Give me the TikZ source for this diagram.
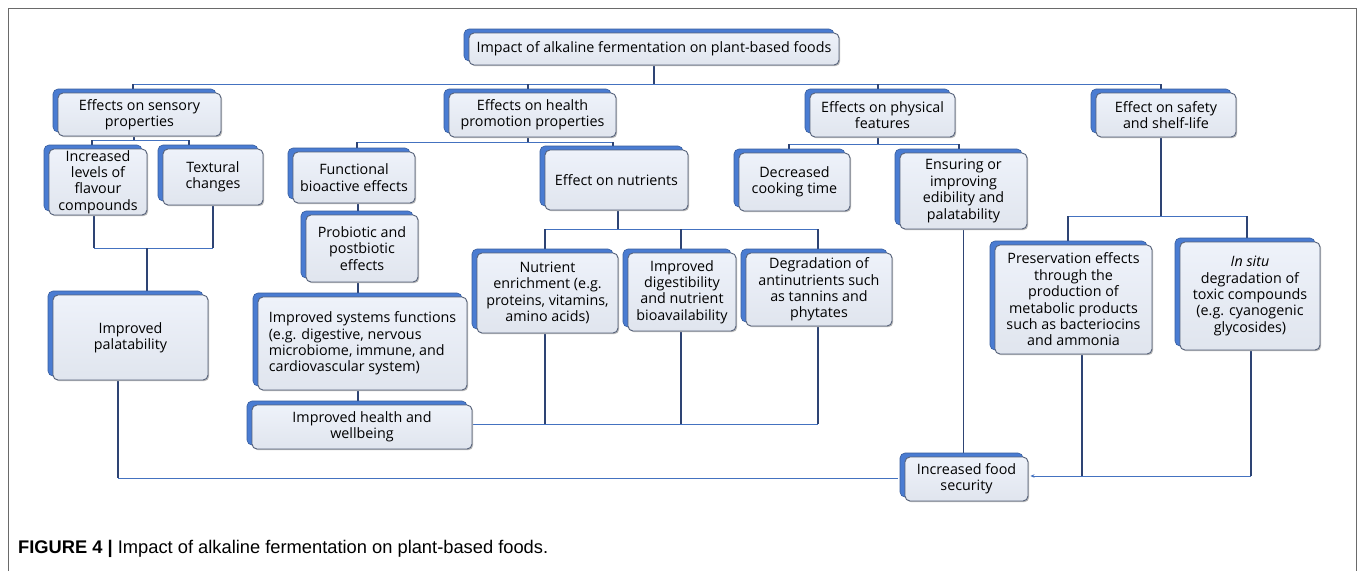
\documentclass[tikz,border=0pt]{standalone}
\usepackage{fontspec}
\setmainfont{Open Sans}
\newfontfamily\capfont{Liberation Sans}
\usetikzlibrary{shadows,calc,backgrounds,arrows.meta}
\definecolor{backblue}{HTML}{4A7CD2}
\definecolor{edgecol}{HTML}{56627A}
\definecolor{filltop}{HTML}{EEF2FA}
\definecolor{fillbot}{HTML}{E0E5EE}
\definecolor{hcol}{HTML}{4472C0}
\definecolor{vcol}{HTML}{2E4474}
\definecolor{framecol}{HTML}{6A6A6A}
\begin{document}
\begin{tikzpicture}[x=1pt,y=-1pt,
  box/.style={draw=edgecol, line width=0.9pt, rounded corners=5pt,
    top color=filltop, bottom color=fillbot, align=center, inner sep=1pt,
    font=\fontsize{14.3}{16.4}\selectfont,
    general shadow={fill=backblue, draw=backblue!75!black, line width=0.6pt, shadow xshift=-5pt, shadow yshift=4pt},
    general shadow={fill=gray!55, draw=none, shadow xshift=1.2pt, shadow yshift=-1.2pt}},
  hl/.style={draw=hcol, line width=1pt},
  vl/.style={draw=vcol, line width=1.1pt}]
\useasboundingbox (0,0) rectangle (1358,571);

% level 0
\node[box, minimum width=370pt, minimum height=32pt] (top) at (654,49) {Impact of alkaline fermentation on plant-based foods};
% level 1
\node[box, minimum width=163pt, minimum height=43pt] (sens) at (139.5,114.5) {Effects on sensory\\properties};
\node[box, minimum width=167pt, minimum height=44pt] (health) at (532.5,115) {Effects on health\\promotion properties};
\node[box, minimum width=145pt, minimum height=44pt] (phys) at (882.5,115) {Effects on physical\\features};
\node[box, minimum width=140pt, minimum height=44pt] (safety) at (1166,115) {Effect on safety\\and shelf-life};
% sensory branch
\node[box, minimum width=98pt, minimum height=66pt] (flav) at (98,182) {Increased\\levels of\\flavour\\compounds};
\node[box, minimum width=100pt, minimum height=56pt] (text) at (213,177) {Textural\\changes};
\node[box, minimum width=155pt, minimum height=85pt] (pal) at (130.5,337.5) {Improved\\palatability};
% health branch
\node[box, minimum width=122pt, minimum height=51pt] (func) at (354,177.5) {Functional\\bioactive effects};
\node[box, minimum width=143pt, minimum height=60pt] (nutr) at (616.5,180) {Effect on nutrients};
\node[box, minimum width=112pt, minimum height=67pt] (prob) at (362,248.5) {Probiotic and\\postbiotic\\effects};
\node[box, minimum width=209pt, minimum height=93pt, align=left] (sys) at (362.5,343.5) {Improved systems functions\\(e.g. digestive, nervous\\microbiome, immune, and\\cardiovascular system)};
\node[box, minimum width=220pt, minimum height=44pt] (hw) at (362,427) {Improved health and\\wellbeing};
\node[box, minimum width=141pt, minimum height=80pt] (enr) at (547.5,293) {Nutrient\\enrichment (e.g.\\proteins, vitamins,\\amino acids)};
\node[box, minimum width=108pt, minimum height=78pt] (dig) at (682,292) {Improved\\digestibility\\and nutrient\\bioavailability};
\node[box, minimum width=146pt, minimum height=73pt] (deg) at (819,289.5) {Degradation of\\antinutrients such\\as tannins and\\phytates};
% physical branch
\node[box, minimum width=111pt, minimum height=58pt] (cook) at (794.5,182) {Decreased\\cooking time};
\node[box, minimum width=127pt, minimum height=76pt] (ens) at (963.5,191) {Ensuring or\\improving\\edibility and\\palatability};
% safety branch
\node[box, minimum width=157pt, minimum height=109pt] (pres) at (1073.5,299.5) {Preservation effects\\through the\\production of\\metabolic products\\such as bacteriocins\\and ammonia};
\node[box, minimum width=140pt, minimum height=108pt] (insitu) at (1250,296) {\textit{In situ}\\degradation of\\toxic compounds\\(e.g. cyanogenic\\glycosides)};
% result
\node[box, minimum width=123pt, minimum height=44pt] (food) at (966.5,479) {Increased food\\security};

% caption
\node[anchor=base west, inner sep=0pt, font=\capfont\fontsize{18.3}{20}\selectfont] (cap) at (18,553) {\textbf{FIGURE 4 |} Impact of alkaline fermentation on plant-based foods.};

\begin{pgfonlayer}{background}
\fill[white] (0,0) rectangle (1358,571);
\draw[framecol, line width=1pt] (8,571) -- (8,8) -- (1356,8) -- (1356,571);
% top bus
\coordinate (b1) at (654,84);
\coordinate (xs) at (133,0);
\coordinate (xh) at (528,0);
\coordinate (xy) at (878,0);
\coordinate (xf) at (1161,0);
\draw[vl] (top.south) -- (b1);
\draw[hl] (b1 -| xs) -- (b1 -| xf);
\draw[vl] (sens.north -| xs) -- (b1 -| xs);
\draw[vl] (health.north -| xh) -- (b1 -| xh);
\draw[vl] (phys.north -| xy) -- (b1 -| xy);
\draw[vl] (safety.north -| xf) -- (b1 -| xf);
% sensory
\coordinate (b2) at (134,140);
\coordinate (xa) at (92,0);
\coordinate (xb) at (189,0);
\draw[vl] (sens.south -| b2) -- (b2);
\draw[hl] (b2 -| xa) -- (b2 -| xb);
\draw[vl] (flav.north -| xa) -- (b2 -| xa);
\draw[vl] (text.north -| xb) -- (b2 -| xb);
\coordinate (b3) at (147,248);
\coordinate (xa2) at (94,0);
\draw[vl] (flav.south -| xa2) -- (b3 -| xa2);
\draw[vl] (text.south) -- (b3 -| text.south);
\draw[hl] (b3 -| xa2) -- (b3 -| text.south);
\draw[vl] (b3) -- (b3 |- pal.north);
\coordinate (xl) at (118,0);
\coordinate (f1) at ($(food.west)+(-7,-1)$);
\draw[vl] (pal.south -| xl) -- (f1 -| xl);
\draw[hl] (f1 -| xl) -- (f1);
% health
\coordinate (b4) at (528,142);
\coordinate (xu) at (357,0);
\coordinate (xv) at (613,0);
\draw[vl] (health.south -| b4) -- (b4);
\draw[hl] (b4 -| xu) -- (b4 -| xv);
\draw[vl] (func.north -| xu) -- (b4 -| xu);
\draw[vl] (nutr.north -| xv) -- (b4 -| xv);
\coordinate (x1) at (358,0);
\draw[vl] (func.south -| x1) -- (prob.north -| x1);
\draw[vl] (prob.south -| x1) -- (sys.north -| x1);
\draw[vl] (sys.south -| x1) -- (hw.north -| x1);
% nutrients
\coordinate (b5) at (618,229);
\coordinate (xe) at (545,0);
\coordinate (xd) at (681,0);
\coordinate (xg) at (818,0);
\draw[vl] (nutr.south -| b5) -- (b5);
\draw[hl] (b5 -| xe) -- (b5 -| xg);
\draw[vl] (enr.north -| xe) -- (b5 -| xe);
\draw[vl] (dig.north -| xd) -- (b5 -| xd);
\draw[vl] (deg.north -| xg) -- (b5 -| xg);
\coordinate (h1) at ($(hw.east)+(0,-3)$);
\draw[hl] (h1) -- (h1 -| xg);
\draw[vl] (enr.south -| xe) -- (h1 -| xe);
\draw[vl] (dig.south -| xd) -- (h1 -| xd);
\draw[vl] (deg.south -| xg) -- (h1 -| xg);
% physical
\coordinate (b6) at (878,144);
\coordinate (xc) at (789,0);
\coordinate (xn) at (959,0);
\draw[vl] (phys.south -| b6) -- (b6);
\draw[hl] (b6 -| xc) -- (b6 -| xn);
\draw[vl] (cook.north -| xc) -- (b6 -| xc);
\draw[vl] (ens.north -| xn) -- (b6 -| xn);
\draw[vl] (ens.south) -- (ens.south |- food.north);
% safety
\coordinate (b7) at (1161,216);
\coordinate (xp) at (1068,0);
\coordinate (xi) at (1247,0);
\draw[vl] (safety.south -| b7) -- (b7);
\draw[hl] (b7 -| xp) -- (b7 -| xi);
\draw[vl] (pres.north -| xp) -- (b7 -| xp);
\draw[vl] (insitu.north -| xi) -- (b7 -| xi);
\coordinate (xq) at (1082,0);
\coordinate (xr) at (1251,0);
\coordinate (f2) at ($(food.east)+(2,-3)$);
\draw[vl] (insitu.south -| xr) -- (f2 -| xr);
\draw[hl, -{Stealth[length=4pt,width=3.5pt]}] (f2 -| xr) -- (f2);
\draw[vl] (pres.south -| xq) -- (f2 -| xq);
\end{pgfonlayer}
\end{tikzpicture}
\end{document}
